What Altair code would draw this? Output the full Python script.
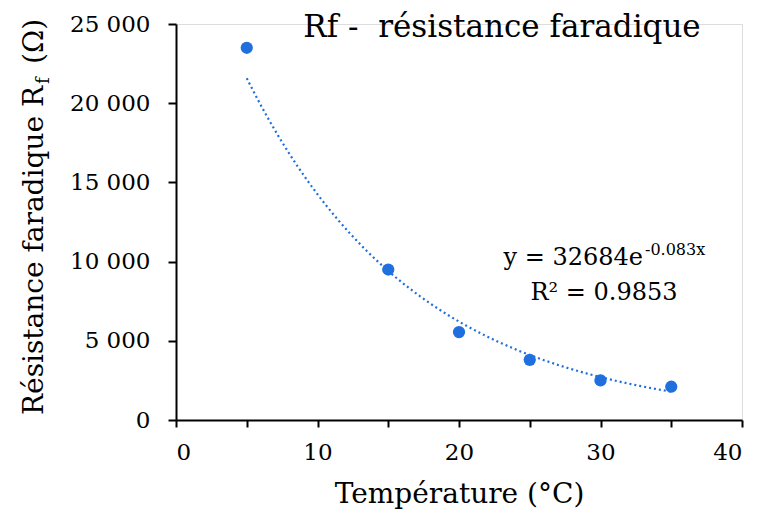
import altair as alt
import pandas as pd

# ---- data ----
temperature = [5, 15, 20, 25, 30, 35]
resistance = [23500, 9500, 5550, 3800, 2500, 2100]

# trendline coefficients shown on the chart (y = A e^(B x))
fit_a = 32684
fit_b = -0.083
fit_start, fit_end = 5, 35

x_ticks = [0, 5, 10, 15, 20, 25, 30, 35, 40]
y_ticks = [0, 5000, 10000, 15000, 20000, 25000]

title_text = "Rf -\u00a0 résistance faradique"
x_title = "Température (°C)"
y_title_main = "Résistance faradique R"
y_title_sub = "f"
y_title_end = "(Ω)"
eq_main = "y = 32684e"
eq_exp = "-0.083x"
r2_text = "R² = 0.9853"

BLUE = "#1f6fde"
FONT = "DejaVu Serif"
W, H = 566, 396

df = pd.DataFrame({"T": temperature, "R": resistance})

x_scale = alt.Scale(domain=[0, 40], nice=False)
y_scale = alt.Scale(domain=[0, 25000], nice=False)

x_axis = alt.Axis(
    values=x_ticks,
    labelExpr="datum.value % 10 == 0 ? datum.label : ''",
    title=x_title,
    titleFontSize=28, titleFont=FONT, titleFontWeight="normal", titleColor="black",
    titlePadding=16,
    labelFont=FONT, labelFontSize=23, labelColor="black", labelPadding=14,
    tickSize=7, tickWidth=2, tickColor="black",
    domainColor="black", domainWidth=2, grid=False,
)
y_axis = alt.Axis(
    values=y_ticks,
    labelExpr="replace(format(datum.value, ','), ',', ' ')",
    title="",
    labelFont=FONT, labelFontSize=23, labelColor="black", labelPadding=18,
    tickSize=8, tickWidth=2, tickColor="black",
    domainColor="black", domainWidth=2, grid=False,
)

points = alt.Chart(df).mark_circle(size=150, color=BLUE, opacity=1).encode(
    x=alt.X("T:Q", scale=x_scale, axis=x_axis),
    y=alt.Y("R:Q", scale=y_scale, axis=y_axis),
)

trend = (
    alt.Chart(alt.sequence(fit_start, fit_end + 0.01, 0.25, as_="t"))
    .transform_calculate(r=f"{fit_a} * exp({fit_b} * datum.t)")
    .mark_line(color=BLUE, strokeWidth=2.2, strokeDash=[2, 3])
    .encode(x=alt.X("t:Q", scale=x_scale), y=alt.Y("r:Q", scale=y_scale))
)


def label(text, x, y, size, align="center", angle=0, baseline="alphabetic"):
    props = dict(font=FONT, fontSize=size, color="black", align=align, baseline=baseline)
    if angle:
        props["angle"] = angle
    return (
        alt.Chart(pd.DataFrame({"txt": [text]}))
        .mark_text(**props)
        .encode(x=alt.value(x), y=alt.value(y), text="txt:N")
    )


annotations = [
    label(title_text, 326, 13, 31),
    label(eq_main, 467, 241, 24, align="right"),
    label(eq_exp, 469, 231, 16, align="left"),
    label(r2_text, 428, 276, 24),
    label(y_title_main, -133, 62, 28, align="right", angle=270),
    label(y_title_sub, -127, 60, 18, align="left", angle=270),
    label(y_title_end, -133, 40, 28, align="left", angle=270),
]

chart = (
    alt.layer(trend, points, *annotations)
    .properties(
        width=W,
        height=H,
        autosize=alt.AutoSizeParams(type="none"),
        padding={"left": 168, "top": 16, "right": 9, "bottom": 98},
    )
    .configure_view(strokeWidth=0, stroke="transparent")
    .configure(background="white")
)

chart.save("out.html", embed_options={"renderer": "svg", "actions": False})
